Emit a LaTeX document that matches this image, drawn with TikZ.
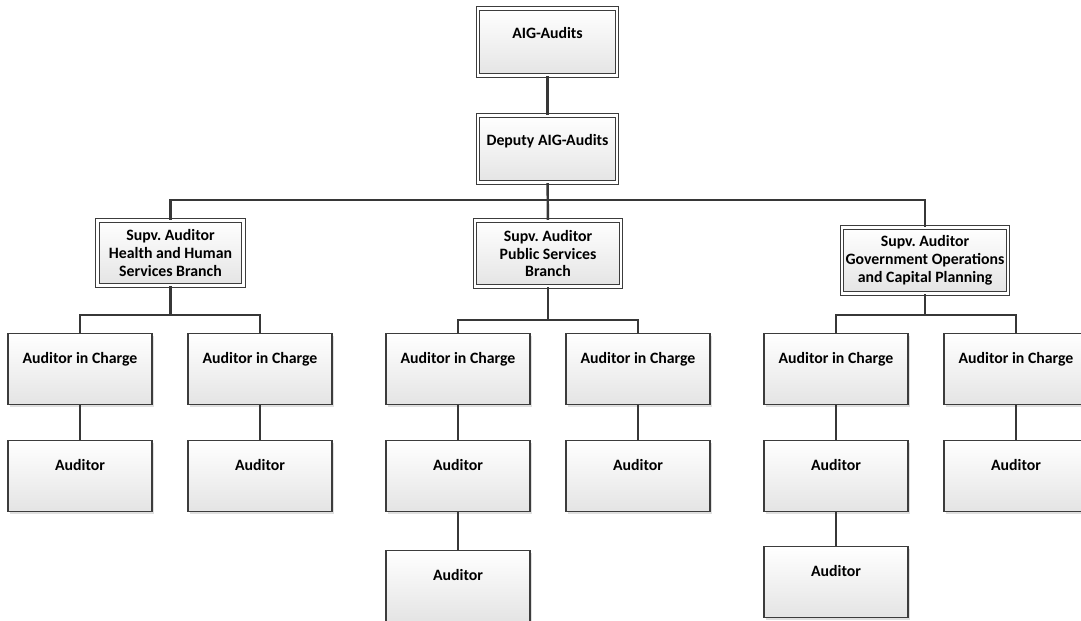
\documentclass[tikz,border=0pt]{standalone}
\usepackage{fontspec}
\setmainfont{Carlito}
\usepackage{tikz}
\usetikzlibrary{positioning,calc,shadows}
\definecolor{boxline}{RGB}{60,60,60}
\definecolor{boxbot}{RGB}{228,228,228}
\definecolor{wire}{RGB}{55,55,55}
\frenchspacing

\tikzset{
  unit/.style={draw=boxline,line width=0.8pt,top color=white,bottom color=boxbot,
    drop shadow={shadow xshift=1.2pt,shadow yshift=-1.2pt,opacity=0.25},
    font=\fontsize{9}{10.2}\selectfont\bfseries,align=center,inner xsep=2pt},
  head/.style={unit,double=white,double distance=1.3pt,line width=0.7pt},
  onerow/.style={inner ysep=0pt,text height=0.6cm,text depth=0.82cm,minimum width=2.88cm,anchor=north},
  wired/.style={draw=wire,line width=1.4pt}
}

\begin{document}
\begin{tikzpicture}
        \useasboundingbox[fill=white] (0,0) rectangle (21.62,-12.4);
        % top of the tree
        \node[head,onerow,minimum width=2.78cm,text depth=0.74cm] (aig) at (10.95,-0.16) {AIG-Audits};
        \node[head,onerow,minimum width=2.78cm,text depth=0.74cm] (dep) at (10.95,-2.30) {Deputy AIG-Audits};
        % supervisors
        \node[head,minimum width=2.92cm,minimum height=1.3cm] (sup1) at (3.41,-5.06) {Supv. Auditor\\Health and Human\\Services Branch};
        \node[head,minimum width=2.92cm,minimum height=1.32cm] (sup2) at (10.96,-5.07) {Supv. Auditor\\Public Services\\Branch};
        \node[head,minimum width=3.24cm,minimum height=1.32cm] (sup3) at (18.5,-5.21) {Supv. Auditor\\Government Operations\\and Capital Planning};
        % auditors in charge
        \node[unit,onerow] (aic1) at (1.6,-6.66) {Auditor in Charge};
        \node[unit,onerow] (aic2) at (5.2,-6.66) {Auditor in Charge};
        \node[unit,onerow] (aic3) at (9.16,-6.66) {Auditor in Charge};
        \node[unit,onerow] (aic4) at (12.76,-6.66) {Auditor in Charge};
        \node[unit,onerow] (aic5) at (16.72,-6.66) {Auditor in Charge};
        \node[unit,onerow] (aic6) at (20.32,-6.66) {Auditor in Charge};
        % auditors
        \node[unit,onerow] (aud1) at (1.6,-8.8) {Auditor};
        \node[unit,onerow] (aud2) at (5.2,-8.8) {Auditor};
        \node[unit,onerow] (aud3) at (9.16,-8.8) {Auditor};
        \node[unit,onerow] (aud4) at (12.76,-8.8) {Auditor};
        \node[unit,onerow] (aud5) at (16.72,-8.8) {Auditor};
        \node[unit,onerow] (aud6) at (20.32,-8.8) {Auditor};
        \node[unit,onerow] (aud7) at (9.16,-11.0) {Auditor};
        \node[unit,onerow] (aud8) at (16.72,-10.92) {Auditor};
        % buses
        \coordinate (bus0) at (0,-4.0);
        \coordinate (bus1) at (0,-6.3);
        \coordinate (bus2) at (0,-6.4);
        \coordinate (bus3) at (0,-6.3);
        \draw[wired] (aig) -- (dep);
        \draw[wired] (dep) -- (sup2);
        \draw[wired] (sup1.north) -- (sup1.north |- bus0) -- (sup3.north |- bus0) -- (sup3.north);
        \draw[wired] (sup1) -- (sup1 |- bus1);
        \draw[wired] (aic1.north) -- (aic1.north |- bus1) -- (aic2.north |- bus1) -- (aic2.north);
        \draw[wired] (sup2) -- (sup2 |- bus2);
        \draw[wired] (aic3.north) -- (aic3.north |- bus2) -- (aic4.north |- bus2) -- (aic4.north);
        \draw[wired] (sup3) -- (sup3 |- bus3);
        \draw[wired] (aic5.north) -- (aic5.north |- bus3) -- (aic6.north |- bus3) -- (aic6.north);
        \foreach \i in {1,...,6}
          \draw[wired] (aic\i) -- (aud\i);
        \draw[wired] (aud3) -- (aud7);
        \draw[wired] (aud5) -- (aud8);
    \end{tikzpicture}
\end{document}
